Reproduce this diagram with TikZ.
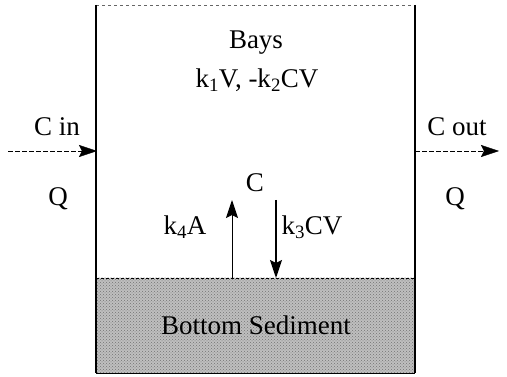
\documentclass[tikz,border=0pt]{standalone}
\usepackage{fontspec}
\setmainfont{Liberation Serif}
\usetikzlibrary{arrows.meta, positioning, patterns}

\begin{document}
\begin{tikzpicture}[x=1pt, y=-1pt, semithick,
    every node/.style={font=\fontsize{27}{29}\selectfont, inner sep=0pt},
    wall/.style={line width=2.8pt},
    bigarrow/.style={arrows={-Stealth[length=18pt, width=12pt, inset=3pt]}},
    flow/.style={bigarrow, thin, dash pattern=on 5pt off 2pt}]
  \useasboundingbox (0,0) rectangle (507,377);

  % bay and sediment
  \coordinate (tl) at (96,5);
  \coordinate (tr) at (415,5);
  \coordinate (bl) at (96,373);
  \coordinate (br) at (415,373);
  \coordinate (sl) at (96,278);
  \coordinate (sr) at (415,278);
  \fill[black!25] (sl) rectangle (br);
  \fill[pattern=crosshatch dots, pattern color=black!55] (sl) rectangle (br);
  \draw[thin, dashed, black!60] (tl) -- (tr);
  \draw[thin, densely dashed] (sl) -- (sr);
  \draw[semithick] (bl) -- (br);
  \draw[wall] (tl) -- (bl);
  \draw[wall] (tr) -- (br);

  % labels
  \node (bays) at (256,43) {Bays};
  \node (rates) at (257,80) {k\textsubscript{1}V, -k\textsubscript{2}CV};
  \node (conc) at (255,183) {C};
  \node (k4) at (185,227) {k\textsubscript{4}A};
  \node (k3) at (312,227) {k\textsubscript{3}CV};
  \node (sed) at (256,325) {Bottom Sediment};
  \node (cin) at (57,127) {C in};
  \node (qin) at (58,199) {Q};
  \node (cout) at (457,127) {C out};
  \node (qout) at (455,199) {Q};

  % flows
  \coordinate (inS) at (8,151);
  \coordinate (inE) at (97,151);
  \coordinate (outS) at (415,151);
  \coordinate (outE) at (499,151);
  \draw[flow] (inS) -- (inE);
  \draw[flow] (outS) -- (outE);

  % exchange with sediment
  \coordinate (upS) at (232,278);
  \coordinate (upE) at (232,200);
  \coordinate (dnS) at (276,200);
  \coordinate (dnE) at (276,278);
  \draw[bigarrow, line width=1pt] (upS) -- (upE);
  \draw[bigarrow, line width=1.6pt] (dnS) -- (dnE);
\end{tikzpicture}
\end{document}
